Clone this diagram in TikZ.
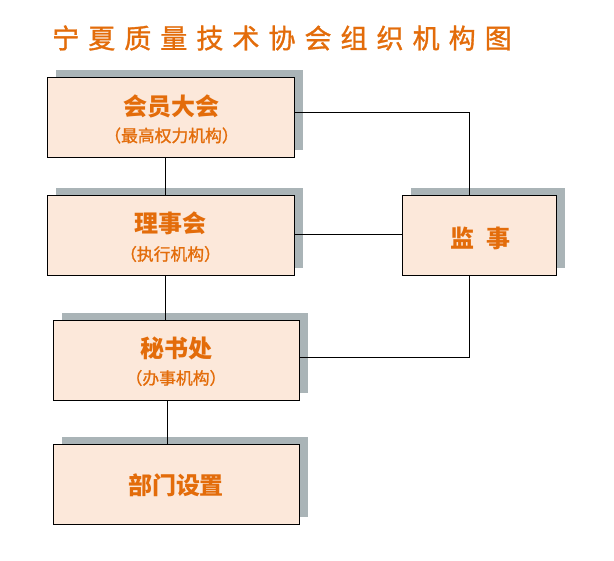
\documentclass[tikz,border=0pt]{standalone}
\usepackage{fontspec}
\newfontfamily\cjk{Noto Sans CJK SC}
\newfontfamily\cjksub[FakeBold=1.2]{Noto Sans CJK SC}
\newfontfamily\cjktitle[LetterSpace=33.5,FakeBold=1.2]{Noto Sans CJK SC}
\usetikzlibrary{shadows,calc}
\definecolor{txtorange}{HTML}{E36C0A}
\definecolor{peach}{HTML}{FCE8DA}
\definecolor{shadowgray}{HTML}{AAB4B7}
\tikzset{
  orgbox/.style={draw=black, line width=0.8pt, fill=peach, minimum width=247pt, minimum height=80pt,
    inner sep=0pt,
    general shadow={fill=shadowgray, shadow xshift=9pt, shadow yshift=7pt}},
  mainlbl/.style={inner sep=0pt, text=txtorange, font=\cjk\bfseries\fontsize{24}{28}\selectfont},
  sublbl/.style={inner sep=0pt, text=txtorange, font=\cjksub\fontsize{16.8}{20}\selectfont},
  conn/.style={draw=black, line width=0.8pt}
}
\begin{document}
\begin{tikzpicture}[x=1pt,y=-1pt]
\useasboundingbox (0,0) rectangle (614,561);
\fill[white] (0,0) rectangle (614,561);
\node[anchor=west, inner sep=0pt, text=txtorange, font=\cjktitle\fontsize{27}{31}\selectfont] (title) at (52,38) {宁夏质量技术协会组织机构图};
\node[orgbox] (B1) at (170.5,117) {};
\node[orgbox] (B2) at (170.5,235) {};
\node[orgbox, minimum width=246pt] (B3) at (176,360) {};
\node[orgbox, minimum width=246pt] (B4) at (176,484) {};
\node[orgbox, minimum width=154pt] (JS) at (479,235) {};
\node[mainlbl] (B1m) at ($(B1.center)+(1,-11)$) {会员大会};
\node[sublbl] (B1s) at ($(B1.center)+(1,18.5)$) {（最高权力机构）};
\node[mainlbl] (B2m) at ($(B2.center)+(0,-12)$) {理事会};
\node[sublbl] (B2s) at ($(B2.center)+(0,19)$) {（执行机构）};
\node[mainlbl] (B3m) at ($(B3.center)+(0,-12)$) {秘书处};
\node[sublbl] (B3s) at ($(B3.center)+(0,18)$) {（办事机构）};
\node[mainlbl] (B4m) at ($(B4.center)+(0,1)$) {部门设置};
\node[mainlbl] (JSm) at ($(JS.center)+(1,3)$) {监\hspace{0.5em}事};
\coordinate (c1) at (165,0);
\coordinate (c2) at (167,0);
\coordinate (c3) at (469,0);
\coordinate (r1) at (0,112);
\coordinate (r2) at (0,234);
\coordinate (r3) at (0,357);
\draw[conn] (B1.south -| c1) -- (B2.north -| c1);
\draw[conn] (B2.south -| c1) -- (B3.north -| c1);
\draw[conn] (B3.south -| c2) -- (B4.north -| c2);
\draw[conn] (B1.east |- r1) -| (JS.north -| c3);
\draw[conn] (B2.east |- r2) -- (JS.west |- r2);
\draw[conn] (JS.south -| c3) |- (B3.east |- r3);
\end{tikzpicture}
\end{document}
